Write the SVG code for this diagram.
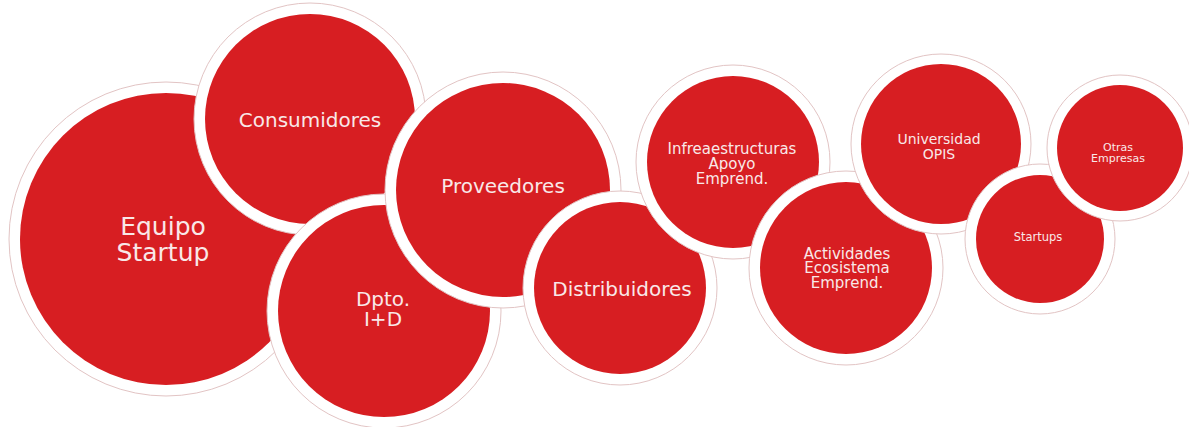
<svg xmlns="http://www.w3.org/2000/svg" width="1189" height="427" viewBox="0 0 1189 427">
<style>
.ring{fill:#ffffff;stroke:#e2c4c4;stroke-width:1}
.disc{fill:#d71e22}
.t{font-family:"DejaVu Sans","Liberation Sans",sans-serif;fill:#f9e8e8;text-anchor:middle}
</style>
<rect width="1189" height="427" fill="#ffffff"/>
<g id="connectors"/>
<g id="equipo">
<circle class="ring" cx="166" cy="239" r="157"/>
<circle class="disc" cx="166" cy="239" r="146"/>
<text class="t" font-size="25" x="163" y="235">Equipo</text>
<text class="t" font-size="25" x="163" y="261">Startup</text>
</g>
<g id="consumidores">
<circle class="ring" cx="310" cy="119" r="116"/>
<circle class="disc" cx="310" cy="119" r="105"/>
<text class="t" font-size="20" x="310" y="127">Consumidores</text>
</g>
<g id="dpto">
<circle class="ring" cx="384" cy="311" r="117"/>
<circle class="disc" cx="384" cy="311" r="106"/>
<text class="t" font-size="20" x="383" y="306">Dpto.</text>
<text class="t" font-size="20" x="383" y="326">I+D</text>
</g>
<g id="proveedores">
<circle class="ring" cx="503" cy="190" r="118"/>
<circle class="disc" cx="503" cy="190" r="107"/>
<text class="t" font-size="20" x="503" y="193">Proveedores</text>
</g>
<g id="distribuidores">
<circle class="ring" cx="620" cy="288" r="97"/>
<circle class="disc" cx="620" cy="288" r="86"/>
<text class="t" font-size="20" x="622" y="296">Distribuidores</text>
</g>
<g id="infraestructuras">
<circle class="ring" cx="733" cy="162" r="97"/>
<circle class="disc" cx="733" cy="162" r="86"/>
<text class="t" font-size="15" x="732" y="154">Infreaestructuras</text>
<text class="t" font-size="15" x="732" y="169">Apoyo</text>
<text class="t" font-size="15" x="732" y="184">Emprend.</text>
</g>
<g id="actividades">
<circle class="ring" cx="846" cy="268" r="97"/>
<circle class="disc" cx="846" cy="268" r="86"/>
<text class="t" font-size="15" x="847" y="259">Actividades</text>
<text class="t" font-size="15" x="847" y="273">Ecosistema</text>
<text class="t" font-size="15" x="847" y="288">Emprend.</text>
</g>
<g id="universidad">
<circle class="ring" cx="941" cy="144" r="90"/>
<circle class="disc" cx="941" cy="144" r="80"/>
<text class="t" font-size="14" x="939" y="144">Universidad</text>
<text class="t" font-size="14" x="939" y="159">OPIS</text>
</g>
<g id="startups">
<circle class="ring" cx="1040" cy="239" r="75"/>
<circle class="disc" cx="1040" cy="239" r="64"/>
<text class="t" font-size="11.5" x="1038" y="241">Startups</text>
</g>
<g id="otras">
<circle class="ring" cx="1120" cy="148" r="73"/>
<circle class="disc" cx="1120" cy="148" r="63"/>
<text class="t" font-size="11" x="1118" y="151">Otras</text>
<text class="t" font-size="11" x="1118" y="162">Empresas</text>
</g>
</svg>
